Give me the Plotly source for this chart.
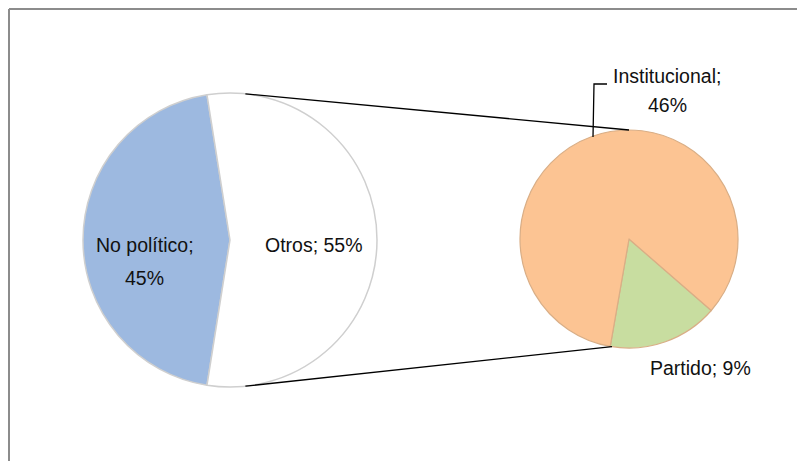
import math
import plotly.graph_objects as go

# ---- data ----
main_labels = ["No político", "Otros"]
main_values = [45, 55]
sub_labels = ["Partido", "Institucional"]
sub_values = [9, 46]

# ---- layout constants (window pixels) ----
W, H = 805, 469
OFF = 8  # default page body margin
FW, FH = W - 2 * OFF, H - 2 * OFF
L_CX, L_CY, L_R = 230, 240, 147
R_CX, R_CY, R_R = 629, 239, 109
FONT = "Liberation Sans, Arial, sans-serif"


def px(x):
    return (x - OFF) / FW


def py(y):
    return 1 - (y - OFF) / FH


def dom(cx, cy, r):
    return dict(x=[px(cx - r), px(cx + r)], y=[py(cy + r), py(cy - r)])


def edge(cx, cy, r, ang):
    a = math.radians(ang)
    return cx + r * math.sin(a), cy - r * math.cos(a)


fig = go.Figure()
fig.add_trace(go.Pie(
    labels=main_labels, values=main_values, sort=False, direction="clockwise",
    rotation=189, domain=dom(L_CX, L_CY, L_R), textinfo="none", hoverinfo="label+percent",
    marker=dict(colors=["#9DB9E0", "#FFFFFF"], line=dict(color="#CFCFCF", width=1.5)),
    showlegend=False,
))
fig.add_trace(go.Pie(
    labels=sub_labels, values=sub_values, sort=False, direction="clockwise",
    rotation=131, domain=dom(R_CX, R_CY, R_R), textinfo="none", hoverinfo="label+value",
    marker=dict(colors=["#C8DDA0", "#FCC493"], line=dict(color="#D9AE86", width=1.2)),
    showlegend=False,
))

# connector lines between pies
x0, y0 = edge(L_CX, L_CY, L_R, 6)
x1, y1 = edge(R_CX, R_CY, R_R, 0)
x2, y2 = edge(L_CX, L_CY, L_R, 174)
x3, y3 = edge(R_CX, R_CY, R_R, 189)
shapes = [
    dict(type="line", xref="paper", yref="paper", x0=px(x0), y0=py(y0), x1=px(x1), y1=py(y1),
         line=dict(color="black", width=1.3)),
    dict(type="line", xref="paper", yref="paper", x0=px(x2), y0=py(y2), x1=px(x3), y1=py(y3),
         line=dict(color="black", width=1.3)),
    # leader for Institucional label
    dict(type="path", xref="paper", yref="paper",
         path=f"M {px(593)},{py(137)} L {px(594)},{py(84)} L {px(607)},{py(84)}",
         line=dict(color="black", width=1.3)),
    # chart frame (top and left)
    dict(type="line", xref="paper", yref="paper", x0=px(9), y0=py(9), x1=1, y1=py(9),
         line=dict(color="#8C8C8C", width=2)),
    dict(type="line", xref="paper", yref="paper", x0=px(9), y0=py(9), x1=px(9), y1=0,
         line=dict(color="#8C8C8C", width=2)),
]

tot = sum(main_values)


def pct(v):
    return f"{round(100 * v / tot)}%"


ann = [
    (f"{main_labels[0]};", 145, 245),
    (pct(main_values[0]), 144, 278),
    (f"{main_labels[1]}; {pct(main_values[1])}", 314, 245),
    (f"{sub_labels[1]};", 667, 76),
    (pct(sub_values[1]), 667, 105),
    (f"{sub_labels[0]}; {pct(sub_values[0])}", 700, 368),
]
annotations = [
    dict(text=t, x=px(x), y=py(y), xref="paper", yref="paper", showarrow=False,
         xanchor="center", yanchor="middle", align="center",
         font=dict(family=FONT, size=19.5, color="#111111"))
    for t, x, y in ann
]

fig.update_layout(
    width=FW, height=FH, margin=dict(l=0, r=0, t=0, b=0),
    paper_bgcolor="white", plot_bgcolor="white",
    shapes=shapes, annotations=annotations,
)
fig.write_html("out.html")
